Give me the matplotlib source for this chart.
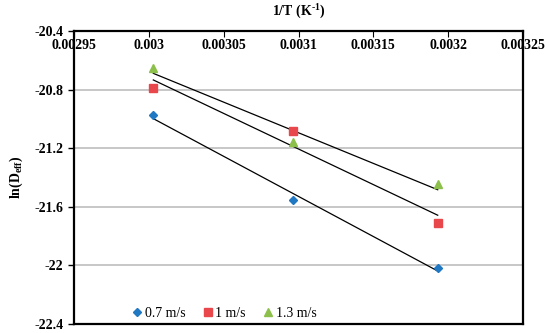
import numpy as np
import matplotlib
matplotlib.use("Agg")
import matplotlib.pyplot as plt

plt.rcParams["font.family"] = "Liberation Serif"
plt.rcParams["mathtext.fontset"] = "custom"
plt.rcParams["mathtext.rm"] = "Liberation Serif"
plt.rcParams["mathtext.bf"] = "Liberation Serif:bold"

# 1/T values (40, 50, 60 C)
inv_t = [0.003003, 0.003096, 0.003193]
ln_d_07 = [-20.975, -21.553, -22.016]
ln_d_10 = [-20.787, -21.083, -21.708]
ln_d_13 = [-20.650, -21.155, -21.446]
labels = ["0.7 m/s", "1 m/s", "1.3 m/s"]
colors = ["#1F78C1", "#E8474C", "#8CC04A"]
markers = ["D", "s", "^"]
msizes = [4, 6, 6]

xticks = [0.00295, 0.003, 0.00305, 0.0031, 0.00315, 0.0032, 0.00325]
xtick_labels = ["0.00295", "0.003", "0.00305", "0.0031", "0.00315", "0.0032", "0.00325"]
yticks = [-22.4, -22, -21.6, -21.2, -20.8, -20.4]
ytick_labels = ["-22.4", "-22", "-21.6", "-21.2", "-20.8", "-20.4"]

fig = plt.figure(figsize=(5.5, 3.33), dpi=100)
ax = fig.add_axes([0.1345, 0.027, 0.8165, 0.88])

x = np.array(inv_t)
for ys, lab, c, m, ms in zip([ln_d_07, ln_d_10, ln_d_13], labels, colors, markers, msizes):
    ys = np.array(ys)
    k, b = np.polyfit(x, ys, 1)
    ax.plot(x, k * x + b, color="black", lw=0.9, zorder=2)
    ax.plot(x, ys, linestyle="none", marker=m, color=c, markersize=ms,
            label=lab, zorder=3)

ax.set_xlim(0.00295, 0.00325)
ax.set_ylim(-22.4, -20.4)
ax.set_xticks(xticks)
ax.set_xticklabels(xtick_labels, fontweight="bold", fontsize=10)
ax.set_yticks(yticks)
ax.set_yticklabels(ytick_labels, fontweight="bold", fontsize=10)
ax.tick_params(axis="x", top=True, labeltop=True, bottom=False, labelbottom=False,
               direction="in", length=4, pad=-15, colors="black")
ax.tick_params(axis="y", direction="out", length=4, width=1)
ax.yaxis.grid(True, color="#BDBDBD", lw=1.2)
ax.set_axisbelow(True)
for s in ax.spines.values():
    s.set_linewidth(1.6)

ax.xaxis.set_label_position("top")
ax.set_xlabel(r"1/T (K$^{\mathbf{\text{-}1}}$)", fontweight="bold", fontsize=10)
ax.xaxis.set_label_coords(0.5, 1.055)
ax.set_ylabel(r"ln(D$_{\mathbf{eff}}$)", fontweight="bold", fontsize=10)
ax.yaxis.set_label_coords(-0.11, 0.5)

ax.legend(loc="lower left", bbox_to_anchor=(0.11, -0.02), ncol=3, frameon=False,
          fontsize=10, handlelength=0.6, handletextpad=0.25, columnspacing=1.3,
          borderpad=0.2)

fig.savefig("out.png", dpi=100)
